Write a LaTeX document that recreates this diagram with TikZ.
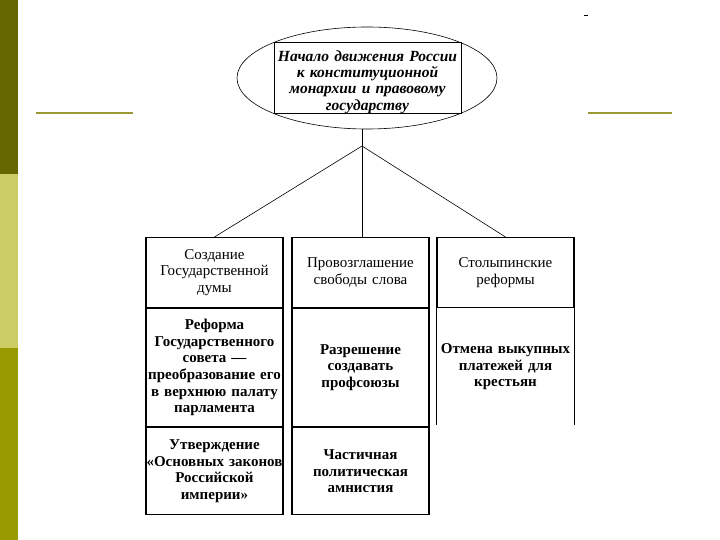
\documentclass[tikz,border=0pt]{standalone}
\usepackage{fontspec}
\setmainfont{Liberation Serif}
\usetikzlibrary{positioning,shapes.geometric}
\definecolor{barDark}{RGB}{102,102,0}
\definecolor{barLight}{RGB}{204,204,102}
\definecolor{barOlive}{RGB}{153,153,0}
\definecolor{ruleOlive}{RGB}{153,153,51}
\tikzset{
  cell/.style={draw,line width=1.1pt,rectangle,minimum width=137pt,text width=136pt,
    align=center,inner sep=0pt,font=\fontsize{15}{16.6}\selectfont\bfseries},
  celltop/.style={cell,font=\fontsize{15}{16.6}\selectfont},
  link/.style={line width=0.6pt}
}

\begin{document}
\begin{tikzpicture}[x=1pt,y=-1pt]
\useasboundingbox (0,0) rectangle (720,540);

% Side bar
\fill[barDark] (0,0) rectangle (18,174);
\fill[barLight] (0,174) rectangle (18,348);
\fill[barOlive] (0,348) rectangle (18,540);

% Olive rules and stray mark
\draw[ruleOlive,line width=2.5pt] (36,113) -- (133,113);
\draw[ruleOlive,line width=2.5pt] (588,113) -- (672,113);
\draw[line width=1pt] (584,16) -- (588,16);

% Title in oval
\node[ellipse,draw,line width=0.6pt,minimum width=260pt,minimum height=102pt] (oval) at (367,78) {};
\node[draw,line width=1pt,minimum width=187pt,minimum height=71pt] (frame) at (367.5,78.5) {};
\node[text width=187pt,align=center,inner sep=0pt,
  font=\fontsize{15.5}{16.4}\selectfont\bfseries\itshape] (title) at (367.5,82)
  {Начало движения России\\ к конституционной\\ монархии и правовому\\ государству};

% Left column
\node[celltop,minimum height=70pt,anchor=north] (l1) at (214.5,237) {Создание\\ Государственной\\ думы};
\node[cell,minimum height=118pt,below=0pt of l1] (l2) {Реформа\\ Государственного\\ совета~---\\ преобразование его\\ в~верхнюю палату\\ парламента};
\node[cell,minimum height=87pt,below=0pt of l2] (l3) {Утверждение\\ «Основных законов\\ Российской\\ империи»};

% Middle column
\node[celltop,minimum height=70pt,anchor=north] (m1) at (360.5,237) {Провозглашение\\ свободы слова};
\node[cell,minimum height=118pt,below=0pt of m1] (m2) {Разрешение\\ создавать\\ профсоюзы};
\node[cell,minimum height=87pt,below=0pt of m2] (m3) {Частичная\\ политическая\\ амнистия};

% Right column (lower cell has no bottom edge)
\node[celltop,minimum height=70pt,anchor=north] (r1) at (505.5,237) {Столыпинские\\ реформы};
\node[cell,draw=none,minimum height=116pt,below=0pt of r1] (r2) {Отмена выкупных\\ платежей для\\ крестьян};
\draw[line width=1.1pt] (r2.north west) -- (r2.south west);
\draw[line width=1.1pt] (r2.north east) -- (r2.south east);

% Connectors
\coordinate (fork) at (362,146);
\draw[line width=1pt] (fork |- oval.south) -- (fork |- m1.north);
\draw[link] (fork) -- (l1.north);
\draw[link] (fork) -- (r1.north);
\end{tikzpicture}
\end{document}
